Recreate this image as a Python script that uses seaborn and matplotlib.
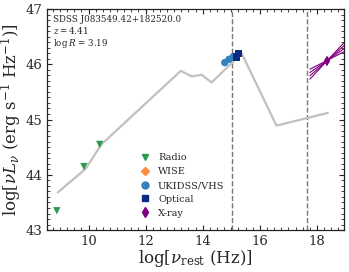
import matplotlib
matplotlib.use("Agg")
import matplotlib.pyplot as plt
import seaborn as sns
from matplotlib.lines import Line2D
from matplotlib.ticker import MultipleLocator

# SED template (grey line)
sed_x = [8.92, 9.90, 10.45, 13.23, 13.62, 13.96, 14.31, 14.85, 15.36, 16.58, 18.38]
sed_y = [43.68, 44.11, 44.55, 45.88, 45.78, 45.81, 45.67, 45.94, 46.20, 44.89, 45.12]

# photometry
radio_x = [8.89, 9.84, 10.39]
radio_y = [43.35, 44.15, 44.55]
ukidss_x = [14.77, 14.92, 15.07]
ukidss_y = [46.03, 46.09, 46.14]
optical_x = [15.18, 15.26]
optical_y = [46.13, 46.19]
xray_x = [18.35]
xray_y = [46.06]

# X-ray bowtie lines: left end x, right end x, and y at each end
bow_x = [17.75, 19.0]
bow_left_y = [45.73, 45.79, 45.85, 45.91]
bow_right_y = [46.42, 46.36, 46.30, 46.24]

# vertical markers: 2500 A and 2 keV
vlines = [15.04, 17.66]

sns.set_style("ticks")
plt.rcParams["font.family"] = ["DejaVu Serif"]
plt.rcParams["mathtext.fontset"] = "dejavuserif"

fig, ax = plt.subplots(figsize=(3.49, 2.72), dpi=100)
fig.subplots_adjust(left=0.135, right=0.986, top=0.967, bottom=0.154)

sns.lineplot(x=sed_x, y=sed_y, sort=False, color="#c0c0c0", lw=1.6, ax=ax, zorder=1)
for v in vlines:
    ax.axvline(v, color="#777777", ls="--", lw=1.0, zorder=0)

for ly, ry in zip(bow_left_y, bow_right_y):
    sns.lineplot(x=bow_x, y=[ly, ry], color="#800080", lw=0.8, ax=ax, zorder=2)

c_radio = "#2c9a50"
c_wise = "#fd8d3c"
c_ukidss = "#3182bd"
c_opt = "#0c2a86"
c_xray = "#800080"

sns.scatterplot(x=radio_x, y=radio_y, marker="v", color=c_radio, s=28, edgecolor="none", ax=ax, zorder=3)
sns.scatterplot(x=ukidss_x, y=ukidss_y, marker="o", color=c_ukidss, s=28, edgecolor="none", ax=ax, zorder=3)
sns.scatterplot(x=optical_x, y=optical_y, marker="s", color=c_opt, s=28, edgecolor="none", ax=ax, zorder=4)
sns.scatterplot(x=xray_x, y=xray_y, marker="d", color=c_xray, s=30, edgecolor="none", ax=ax, zorder=4)

ax.set_xlim(8.55, 18.95)
ax.set_ylim(43, 47)
ax.xaxis.set_major_locator(MultipleLocator(2))
ax.xaxis.set_minor_locator(MultipleLocator(0.25))
ax.yaxis.set_major_locator(MultipleLocator(1))
ax.yaxis.set_minor_locator(MultipleLocator(0.1))
ax.tick_params(which="both", direction="in", top=True, right=True, labelsize=9.5, color="#222222")
ax.tick_params(which="major", length=3.5, width=0.8)
ax.tick_params(which="minor", length=2.2, width=0.6)
for sp in ax.spines.values():
    sp.set_linewidth(0.9)
    sp.set_color("#222222")

ax.set_xlabel(r"$\log[\nu_{\rm rest}$ (Hz)]", fontsize=12, labelpad=0)
ax.set_ylabel(r"$\log[\nu L_\nu$ (erg s$^{-1}$ Hz$^{-1}$)]", fontsize=12, labelpad=1)

ax.text(0.02, 0.975, "SDSS J083549.42+182520.0\n$z = 4.41$\n$\\log R$ = 3.19",
        transform=ax.transAxes, va="top", ha="left", fontsize=6.3, linespacing=1.15)

handles = [
    Line2D([], [], ls="none", marker="v", color=c_radio, ms=5, label="Radio"),
    Line2D([], [], ls="none", marker="D", color=c_wise, ms=4.5, label="WISE"),
    Line2D([], [], ls="none", marker="o", color=c_ukidss, ms=5, label="UKIDSS/VHS"),
    Line2D([], [], ls="none", marker="s", color=c_opt, ms=4.5, label="Optical"),
    Line2D([], [], ls="none", marker="d", color=c_xray, ms=5, label="X-ray"),
]
ax.legend(handles=handles, loc="upper left", bbox_to_anchor=(0.285, 0.365), frameon=False,
          fontsize=7, handletextpad=0.3, labelspacing=0.5, borderaxespad=0)

fig.savefig("out.png", dpi=100)
